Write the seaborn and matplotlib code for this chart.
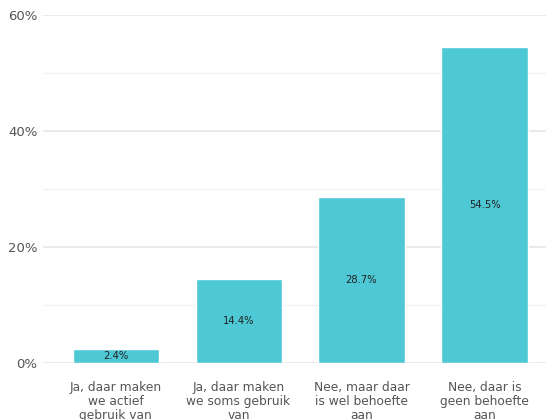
import matplotlib
matplotlib.use("Agg")
import matplotlib.pyplot as plt
import seaborn as sns
import pandas as pd
from matplotlib.ticker import MultipleLocator, FuncFormatter

categories = [
    "Ja, daar maken\nwe actief\ngebruik van",
    "Ja, daar maken\nwe soms gebruik\nvan",
    "Nee, maar daar\nis wel behoefte\naan",
    "Nee, daar is\ngeen behoefte\naan",
]
values = [2.4, 14.4, 28.7, 54.5]

df = pd.DataFrame({"antwoord": categories, "pct": values})

sns.set_theme(style="white")
plt.rcParams["font.family"] = ["DejaVu Sans"]

fig = plt.figure(figsize=(5.46, 4.2), dpi=100)
ax = fig.add_axes([0.0788, 0.1357, 0.9212, 0.8286])

sns.barplot(data=df, x="antwoord", y="pct", color="#4ec8d4", saturation=1,
            width=0.7, ax=ax, zorder=3)

ax.set_ylim(0, 60)
ax.set_xlim(-0.59, 3.5)
ax.yaxis.set_major_locator(MultipleLocator(20))
ax.yaxis.set_minor_locator(MultipleLocator(10))
ax.yaxis.set_major_formatter(FuncFormatter(lambda v, p: f"{v:.0f}%"))
ax.grid(which="major", axis="y", color="#e6e6e6", linewidth=1.2, zorder=0)
ax.grid(which="minor", axis="y", color="#f2f2f2", linewidth=1.0, zorder=0)
ax.grid(axis="x", visible=False)
for s in ax.spines.values():
    s.set_visible(False)
ax.tick_params(axis="both", length=0)
ax.tick_params(axis="y", labelsize=9.5, labelcolor="#555555", pad=4)
ax.tick_params(axis="x", labelsize=8.8, labelcolor="#555555", pad=13)
for lbl in ax.get_xticklabels():
    lbl.set_linespacing(1.1)
ax.set_xlabel("")
ax.set_ylabel("")

for i, v in enumerate(values):
    ax.text(i, v / 2, f"{v}%", ha="center", va="center", fontsize=7.2,
            color="#222222", zorder=4)

fig.savefig("out.png", dpi=100)
